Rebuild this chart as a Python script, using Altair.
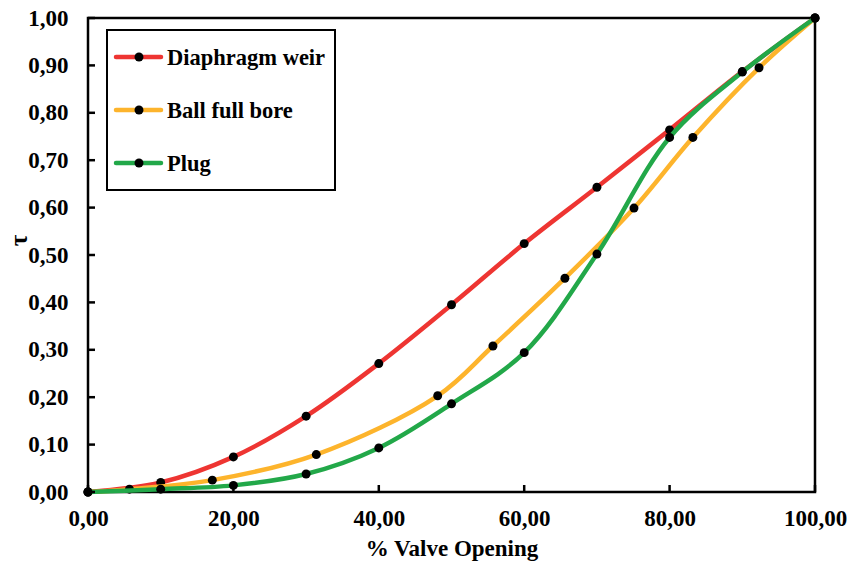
import altair as alt
import pandas as pd

# ---- data ----
series_names = ["Diaphragm weir", "Ball full bore", "Plug"]
series_colors = ["#EE3532", "#FDB42C", "#22A849"]

x_diaphragm = [0, 10, 20, 30, 40, 50, 60, 70, 80, 90, 100]
y_diaphragm = [0, 0.020, 0.074, 0.160, 0.271, 0.395, 0.524, 0.643, 0.764, 0.887, 1.0]

x_ball = [0, 5.7, 17.1, 31.4, 48.1, 55.7, 65.6, 75.1, 83.2, 92.3, 100]
y_ball = [0, 0.006, 0.025, 0.079, 0.203, 0.308, 0.451, 0.599, 0.748, 0.895, 1.0]

x_plug = [0, 10, 20, 30, 40, 50, 60, 70, 80, 90, 100]
y_plug = [0, 0.006, 0.014, 0.038, 0.093, 0.186, 0.294, 0.502, 0.748, 0.886, 1.0]

x_ticks = [0, 20, 40, 60, 80, 100]
y_ticks = [0, 0.1, 0.2, 0.3, 0.4, 0.5, 0.6, 0.7, 0.8, 0.9, 1.0]

FONT = "Liberation Serif"
W, H = 727, 474

xs = [x_diaphragm, x_ball, x_plug]
ys = [y_diaphragm, y_ball, y_plug]

xscale = alt.Scale(domain=[0, 100], nice=False, zero=True)
yscale = alt.Scale(domain=[0, 1], nice=False, zero=True)

lab_expr = "replace(format(datum.value, '.2f'), '.', ',')"

x_axis = alt.Axis(values=x_ticks, labelExpr=lab_expr, grid=False, ticks=False,
                  domain=False, labelFont=FONT, labelFontSize=23, labelFontWeight="bold",
                  labelColor="black", labelPadding=15, labelFlush=False,
                  title="% Valve Opening", titleFont=FONT, titleFontSize=23,
                  titleFontWeight="bold", titleColor="black", titleBaseline="middle",
                  titleY=56)
y_axis = alt.Axis(values=y_ticks, labelExpr=lab_expr, grid=False, ticks=False,
                  domain=False, labelFont=FONT, labelFontSize=23, labelFontWeight="bold",
                  labelColor="black", labelPadding=20, labelFlush=False,
                  title="τ", titleFont=FONT, titleFontSize=25, titleFontWeight="bold",
                  titleColor="black", titleBaseline="middle", titleAngle=270,
                  titleX=-70, titleY=222)


def X(field):
    return alt.X(field, scale=xscale, axis=x_axis)


def Y(field):
    return alt.Y(field, scale=yscale, axis=y_axis)


layers = []
for i, (name, col) in enumerate(zip(series_names, series_colors)):
    df = pd.DataFrame({"x": xs[i], "y": ys[i], "series": name})
    base = alt.Chart(df)
    line = base.mark_line(interpolate="catmull-rom", strokeWidth=4.5, color=col).encode(
        x=X("x:Q"), y=Y("y:Q"))
    pts = base.mark_circle(size=80, color="black", opacity=1).encode(
        x=X("x:Q"), y=Y("y:Q"))
    layers += [line, pts]

# inside tick marks
xt = alt.Chart(pd.DataFrame({"v": x_ticks})).mark_rule(color="black", strokeWidth=2.5).encode(
    x=X("v:Q"), y=alt.value(H), y2=alt.value(H - 7))
yt = alt.Chart(pd.DataFrame({"v": y_ticks})).mark_rule(color="black", strokeWidth=2.5).encode(
    y=Y("v:Q"), x=alt.value(0), x2=alt.value(7))
layers += [xt, yt]

# manual legend
leg_df = pd.DataFrame({"series": series_names})
box = alt.Chart(leg_df).mark_rect(fill="white", stroke="black", strokeWidth=2).encode(
    x=alt.value(19), x2=alt.value(247), y=alt.value(12), y2=alt.value(172))
layers.append(box)
row_y = [39, 92, 145]
for i, (name, col) in enumerate(zip(series_names, series_colors)):
    d = pd.DataFrame({"series": [name]})
    c = alt.Chart(d)
    layers.append(c.mark_rule(color=col, strokeWidth=4.5, strokeCap="round").encode(
        x=alt.value(28), x2=alt.value(73), y=alt.value(row_y[i])))
    layers.append(c.mark_circle(size=80, color="black", opacity=1).encode(
        x=alt.value(51), y=alt.value(row_y[i])))
    layers.append(c.mark_text(align="left", baseline="middle", font=FONT, fontSize=22.5,
                              fontWeight="bold", color="black").encode(
        x=alt.value(79), y=alt.value(row_y[i] + 1), text="series:N"))

chart = alt.layer(*layers).properties(
    width=W, height=H,
    autosize=alt.AutoSizeParams(type="none"),
    padding={"left": 88, "top": 18, "right": 32, "bottom": 70},
    background="white",
).configure_view(stroke="black", strokeWidth=2.5)

chart.save("out.html", embed_options={"renderer": "svg", "actions": False})
